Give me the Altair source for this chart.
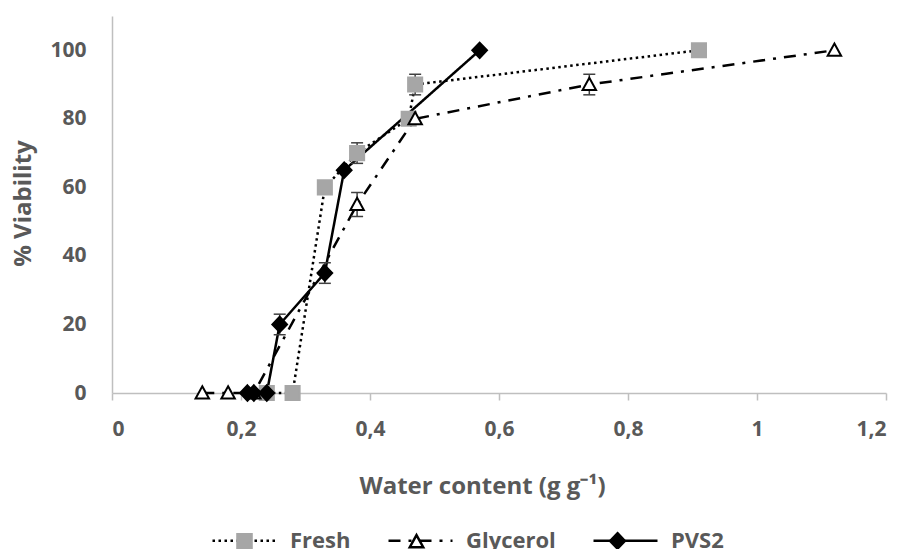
import altair as alt
import pandas as pd

# ---- data ----
series_names = ["Fresh", "Glycerol", "PVS2"]

fresh_x = [0.24, 0.28, 0.33, 0.38, 0.46, 0.47, 0.91]
fresh_y = [0, 0, 60, 70, 80, 90, 100]
fresh_err = [0, 0, 0, 3, 0, 3, 0]

glycerol_x = [0.14, 0.18, 0.22, 0.38, 0.47, 0.74, 1.12]
glycerol_y = [0, 0, 0, 55, 80, 90, 100]
glycerol_err = [0, 0, 0, 3.5, 0, 3, 0]

pvs2_x = [0.21, 0.22, 0.24, 0.26, 0.33, 0.36, 0.57]
pvs2_y = [0, 0, 0, 20, 35, 65, 100]
pvs2_err = [0, 0, 0, 3, 3, 0, 0]

x_ticks = [0, 0.2, 0.4, 0.6, 0.8, 1.0, 1.2]
y_ticks = [0, 20, 40, 60, 80, 100]

# ---- styles ----
FONT = "Open Sans"
TXT = "#595959"
AX = "#BFBFBF"
dash_list = [[2.5, 3.5], [12, 8, 3, 8], [1, 0]]
shape_paths = [
    "M-0.22,-0.22H0.22V0.22H-0.22Z",
    "M0,-0.21L0.21,0.17L-0.21,0.17Z",
    "M0,-0.24L0.23,0L0,0.24L-0.23,0Z",
]
fill_list = ["#A6A6A6", "#FFFFFF", "#000000"]
stroke_list = ["#A6A6A6", "#000000", "#000000"]

rows = []
for name, xs, ys, es in [
    ("Fresh", fresh_x, fresh_y, fresh_err),
    ("Glycerol", glycerol_x, glycerol_y, glycerol_err),
    ("PVS2", pvs2_x, pvs2_y, pvs2_err),
]:
    for xv, yv, ev in zip(xs, ys, es):
        rows.append({"series": name, "series_p": name, "x": xv, "y": yv,
                     "err": ev, "lo": yv - ev, "hi": yv + ev})
df = pd.DataFrame(rows)
err_df = df[df["err"] > 0]

xscale = alt.Scale(domain=[0, 1.2], nice=False, zero=False)
yscale = alt.Scale(domain=[0, 110], nice=False)

x_axis = alt.Axis(
    values=x_ticks,
    labelExpr="replace(toString(datum.value), '.', ',')",
    title="Water content  (g g⁻¹)",
    grid=False,
    domainColor=AX, domainWidth=1.5,
    tickColor=AX, tickWidth=1.5, tickSize=7,
    labelFont=FONT, labelFontWeight="bold", labelFontSize=21, labelColor=TXT,
    labelPadding=18,
    titleFont=FONT, titleFontWeight="bold", titleFontSize=24, titleColor=TXT,
    titleX=370, titleY=100, titleAlign="center", titleBaseline="alphabetic",
)
y_axis = alt.Axis(
    values=y_ticks,
    title="% Viability",
    grid=False,
    ticks=False, tickSize=0,
    domainColor=AX, domainWidth=1.5,
    labelFont=FONT, labelFontWeight="bold", labelFontSize=21, labelColor=TXT,
    labelPadding=26,
    titleFont=FONT, titleFontWeight="bold", titleFontSize=24, titleColor=TXT,
    titleX=-89, titleY=187, titleAlign="center", titleBaseline="middle",
)

common_leg = dict(
    orient="none", legendX=99, legendY=491, direction="horizontal",
    symbolSize=4096, symbolStrokeWidth=2.5, padding=0,
    labelFont=FONT, labelFontWeight="bold", labelFontSize=22, labelColor=TXT,
    labelOffset=12, columnPadding=32, labelLimit=400,
)
leg_lines = alt.Legend(symbolType="stroke", symbolStrokeColor="black", **common_leg)
leg_pts = alt.Legend(labelOpacity=0, zindex=2, **common_leg)

lines = alt.Chart(df).mark_line(color="black", strokeWidth=2.5).encode(
    x=alt.X("x:Q", scale=xscale, axis=x_axis),
    y=alt.Y("y:Q", scale=yscale, axis=y_axis),
    strokeDash=alt.StrokeDash("series:N",
                              scale=alt.Scale(range=dash_list),
                              legend=leg_lines, title=None),
)

err_rules = alt.Chart(err_df).mark_rule(color="#404040", strokeWidth=1.5).encode(
    x="x:Q", y="lo:Q", y2="hi:Q"
)
cap_hi = alt.Chart(err_df).mark_rule(color="#404040", strokeWidth=1.5,
                                     xOffset=-6, x2Offset=6).encode(
    x="x:Q", x2="x:Q", y="hi:Q"
)
cap_lo = alt.Chart(err_df).mark_rule(color="#404040", strokeWidth=1.5,
                                     xOffset=-6, x2Offset=6).encode(
    x="x:Q", x2="x:Q", y="lo:Q"
)

pts = alt.Chart(df).mark_point(filled=True, size=4096, strokeWidth=2, opacity=1).encode(
    x="x:Q",
    y="y:Q",
    shape=alt.Shape("series_p:N", scale=alt.Scale(range=shape_paths),
                    legend=leg_pts, title=None),
    fill=alt.Fill("series_p:N", scale=alt.Scale(range=fill_list),
                  legend=leg_pts, title=None),
    stroke=alt.Stroke("series_p:N", scale=alt.Scale(range=stroke_list),
                      legend=leg_pts, title=None),
)

chart = alt.layer(lines, err_rules, cap_hi, cap_lo, pts).properties(
    width=774, height=377,
    autosize=alt.AutoSizeParams(type="none"),
    padding={"left": 104, "top": 8, "right": 11, "bottom": 156},
).configure_view(stroke=None)

chart.save("out.html", embed_options={"renderer": "svg", "actions": False})
